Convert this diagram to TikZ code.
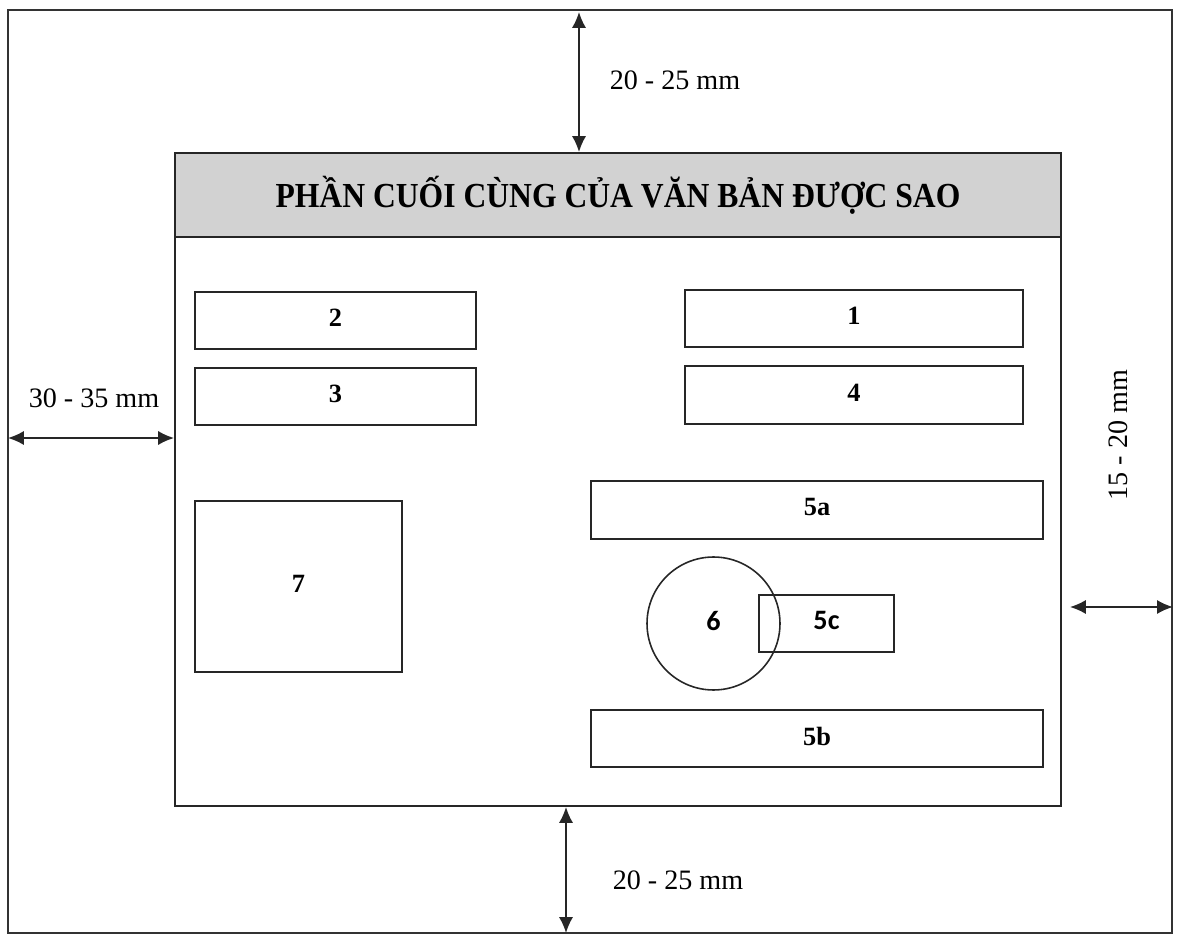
\documentclass[tikz,border=0pt]{standalone}
\usepackage{fontspec}
\setmainfont{Liberation Serif}
\newfontfamily\carlito{Carlito}
\newfontfamily\headfont[FakeStretch=0.9]{Liberation Serif}
\usetikzlibrary{arrows.meta}

\begin{document}
\begin{tikzpicture}[
    x=0.02cm, y=-0.02cm,
    sheet/.style={rectangle, draw=black!80, line width=1.1pt, minimum width=23.28cm, minimum height=18.46cm},
    page/.style={rectangle, draw=black!85, line width=1.2pt, minimum width=17.72cm, minimum height=13.06cm},
    head/.style={rectangle, draw=black!85, fill=gray!35, line width=1.2pt, minimum width=17.72cm, minimum height=1.68cm, font=\fontsize{20}{23}\selectfont\headfont\bfseries},
    part/.style={rectangle, draw=black!85, line width=0.9pt, minimum height=1.14cm, text depth=3pt, align=center, font=\fontsize{15}{17}\selectfont\bfseries},
    seal/.style={circle, draw=black!85, line width=0.9pt, minimum size=2.66cm, text depth=3pt, font=\fontsize{16}{18}\selectfont\carlito\bfseries},
    dim/.style={{Latex[length=9pt,width=8pt]}-{Latex[length=9pt,width=8pt]}, line width=0.9pt, black!85},
    dimtext/.style={font=\fontsize{16}{18}\selectfont}
]
    \useasboundingbox (0,0) rectangle (1178,936);

    % Sheet and copied page
    \node[sheet] (sheet) at (590,471.5) {};
    \node[page]  (page)  at (618,479.5) {};
    \node[head]  (head)  at (618,195) {PHẦN CUỐI CÙNG CỦA VĂN BẢN ĐƯỢC SAO};

    % Parts of the page
    \node[part, minimum width=5.62cm] (p2) at (335.5,320.5) {2};
    \node[part, minimum width=5.62cm] (p3) at (335.5,396.5) {3};
    \node[part, minimum width=6.76cm] (p1) at (854,318.5) {1};
    \node[part, minimum width=6.76cm, minimum height=1.16cm] (p4) at (854,395) {4};
    \node[part, minimum width=9.04cm, minimum height=1.16cm] (p5a) at (817,510) {5a};
    \node[part, minimum width=4.14cm, minimum height=3.42cm] (p7) at (298.5,586.5) {7};
    \node[part, minimum width=2.7cm, font=\fontsize{16}{18}\selectfont\carlito\bfseries] (p5c) at (826.5,623.5) {5c};
    \node[seal] (p6) at (713.5,623.5) {6};
    \node[part, minimum width=9.04cm] (p5b) at (817,738.5) {5b};

    % Margins
    \coordinate (topA) at (579,12);
    \coordinate (botA) at (566,933);
    \coordinate (lftA) at (8,438);
    \coordinate (rgtA) at (1070,607);
    \draw[dim] (topA) -- (topA |- page.north);
    \draw[dim] (botA |- page.south) -- (botA);
    \draw[dim] (lftA) -- (lftA -| page.west);
    \draw[dim] (rgtA) -- (rgtA -| sheet.east);

    \node[dimtext] (mtop) at (675,80) {20 - 25 mm};
    \node[dimtext] (mbot) at (678,880) {20 - 25 mm};
    \node[dimtext] (mlft) at (94,398) {30 - 35 mm};
    \node[dimtext, rotate=90] (mrgt) at (1118,435) {15 - 20 mm};

\end{tikzpicture}
\end{document}
